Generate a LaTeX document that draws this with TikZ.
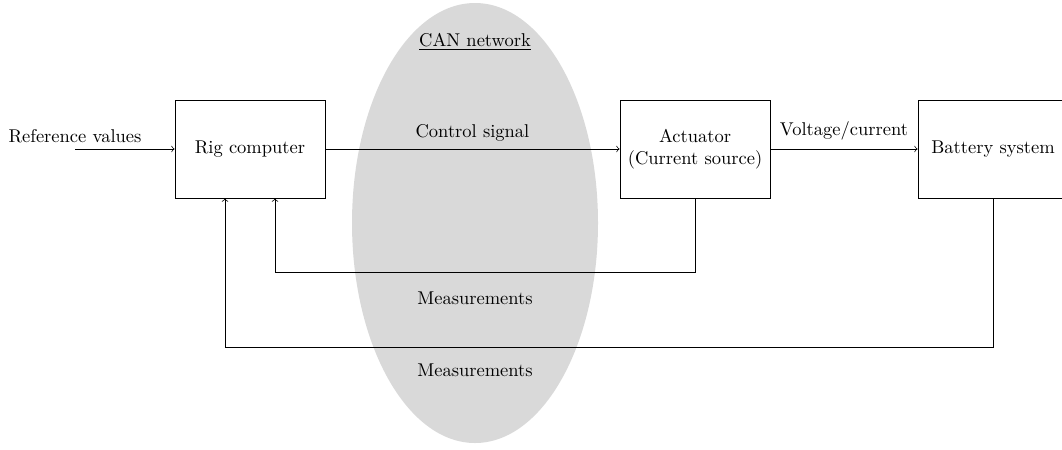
\documentclass[tikz,border=0pt]{standalone}
\usetikzlibrary{positioning}
\begin{document}
\begin{tikzpicture}[x=0.5405pt,y=-0.5405pt,
  block/.style={draw,minimum width=81.1pt,minimum height=53pt,align=center,inner sep=2pt},
  lbl/.style={inner sep=0pt,align=center},
  flow/.style={->}]
\useasboundingbox (0,0) rectangle (1062,449);
% CAN bus region
\fill[black!15] (475,223) ellipse [x radius=123, y radius=220];
\node[lbl] (can) at (475,42) {\underline{CAN network}};
% blocks
\node[block] (rig) at (250,149) {Rig computer};
\node[block] (act) at (695,149) {Actuator\\(Current source)};
\node[block] (bat) at (993,149) {Battery system};
% input
\coordinate (in) at (75,149);
\node[lbl,anchor=south] (reflbl) at (75,143) {Reference values};
\draw[flow] (in) -- (rig);
% forward path
\draw[flow] (rig) -- node[lbl,above=4pt] (ctl) {Control signal} (act);
\draw[flow] (act) -- node[lbl,above=4.5pt] (vc) {Voltage/current} (bat);
% feedback paths
\coordinate (fb1) at (695,272);
\coordinate (fb2) at (993,347);
\draw[flow] (act.south) -- (fb1) -- (fb1 -| 275,0) -- (rig.south -| 275,0);
\draw[flow] (bat.south) -- (fb2) -- (fb2 -| 225,0) -- (rig.south -| 225,0);
\node[lbl] (m1) at (475,298) {Measurements};
\node[lbl] (m2) at (475,370) {Measurements};
\end{tikzpicture}
\end{document}
